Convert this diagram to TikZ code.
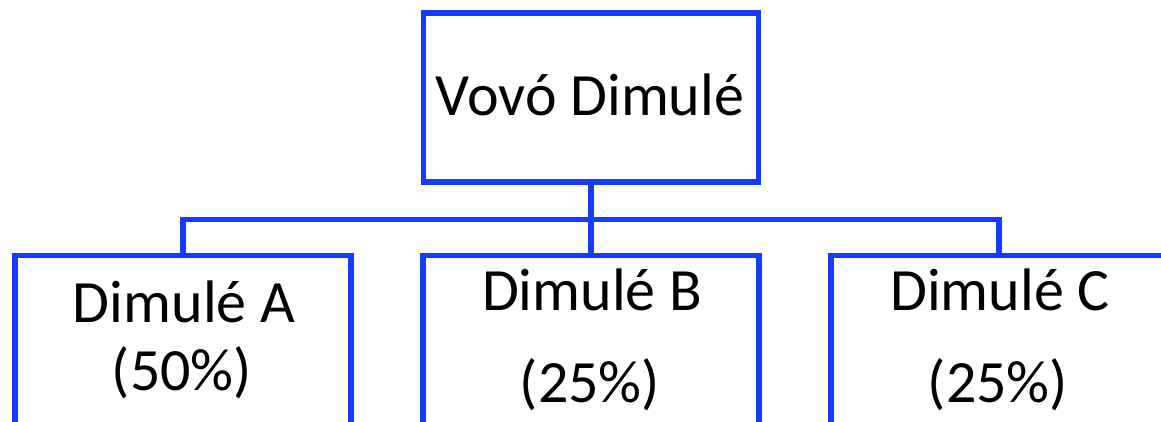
\documentclass[tikz,border=0pt]{standalone}
\usepackage{fontspec}
\setmainfont{Carlito}
\definecolor{boxblue}{RGB}{20,60,255}
\begin{document}
\begin{tikzpicture}[x=1pt,y=-1pt,
  box/.style={draw=boxblue, line width=5.5pt, fill=white, rectangle, inner sep=0pt, minimum width=336pt},
  conn/.style={draw=boxblue, line width=5.5pt},
  lbl/.style={font=\fontsize{60pt}{72pt}\selectfont, inner sep=0pt, anchor=base}]
\useasboundingbox (0,0) rectangle (1161,421);
\clip (0,0) rectangle (1161,421);
\fill[white] (0,0) rectangle (1161,421);
% top box
\node[box, minimum width=335pt, minimum height=169pt] (top) at (591,97.5) {};
\node[lbl] (ttop) at (590,115) {Vovó Dimulé};
% bottom boxes
\node[box, minimum height=300pt, anchor=north] (A) at (183,252.5) {};
\node[box, minimum height=300pt, anchor=north] (B) at (591,252.5) {};
\node[box, minimum height=300pt, anchor=north] (C) at (999,252.5) {};
% connectors
\coordinate (j) at (591,219.5);
\draw[conn] (top.south) -- (j);
\draw[conn] (j) -- (B.north);
\draw[conn, line join=miter] (A.north) |- (j);
\draw[conn, line join=miter] (C.north) |- (j);
% labels
\node[lbl] (tA1) at (184,322) {Dimulé A};
\node[lbl] (tA2) at (182,390) {(50\%)};
\node[lbl] (tB1) at (592,310) {Dimulé B};
\node[lbl] (tB2) at (590,402) {(25\%)};
\node[lbl] (tC1) at (1000,310) {Dimulé C};
\node[lbl] (tC2) at (998,402) {(25\%)};
\end{tikzpicture}
\end{document}
